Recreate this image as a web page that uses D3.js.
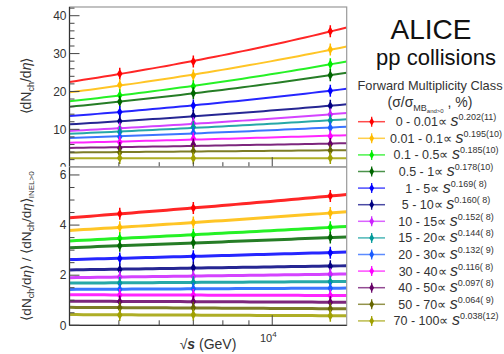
<!DOCTYPE html>
<html>
<head>
<meta charset="utf-8">
<script src="https://cdn.jsdelivr.net/npm/d3@7"></script>
<style>
  body { margin: 0; background: #fff; }
  text { font-family: "Liberation Sans", Arial, sans-serif; fill: #333; }
</style>
</head>
<body>
<div id="chart"></div>
<script>
// Collision energies (GeV) of the measured points
const energies = [5020, 7000, 13000];

// Forward multiplicity classes and fitted exponents from the legend
const classLabels = ["0 - 0.01", "0.01 - 0.1", "0.1 - 0.5", "0.5 - 1", "1 - 5", "5 - 10",
  "10 - 15", "15 - 20", "20 - 30", "30 - 40", "40 - 50", "50 - 70", "70 - 100"];
const exponents = ["0.202(11)", "0.195(10)", "0.185(10)", "0.178(10)", "0.169( 8)", "0.160( 8)",
  "0.152( 8)", "0.144( 8)", "0.132( 9)", "0.116( 8)", "0.097( 8)", "0.064( 9)", "0.038(12)"];

// <dNch/deta> per class at 5.02, 7, 13 TeV (top panel)
const dNdEta = [
  [24.7, 27.9, 35.9],
  [21.7, 24.2, 31.1],
  [19.0, 21.4, 27.2],
  [17.3, 19.5, 24.3],
  [14.6, 16.3, 20.2],
  [12.1, 13.5, 16.2],
  [10.2, 11.6, 13.9],
  [9.3, 10.6, 12.3],
  [8.05, 9.1, 10.4],
  [6.6, 7.6, 8.2],
  [5.07, 6.0, 6.1],
  [3.9, 4.3, 4.4],
  [2.4, 2.35, 2.4]
];

// ratio to INEL>0 per class at 5.02, 7, 13 TeV (bottom panel)
const ratios = [
  [4.45, 4.68, 5.16],
  [3.91, 4.10, 4.48],
  [3.47, 3.61, 3.91],
  [3.17, 3.29, 3.50],
  [2.67, 2.76, 2.90],
  [2.23, 2.30, 2.36],
  [1.93, 1.96, 2.04],
  [1.69, 1.72, 1.74],
  [1.44, 1.46, 1.48],
  [1.21, 1.21, 1.19],
  [0.95, 0.95, 0.92],
  [0.70, 0.70, 0.66],
  [0.41, 0.42, 0.38]
];

const topTicks = [0, 10, 20, 30, 40];
const bottomTicks = [0, 2, 4, 6];
const xMinorTicks = [5000, 6000, 7000, 8000, 9000];
const xMajorTicks = [10000];

const colors = ["#ff0000", "#ffbb00", "#00ee00", "#006600", "#0000ff", "#000080",
  "#cc22ff", "#009999", "#1a5cff", "#ff00ff", "#660066", "#666600", "#a0a000"];

const width = 504, height = 354;
const plotLeft = 69.5, plotRight = 346.7;

const svg = d3.select("#chart").append("svg")
  .attr("width", width)
  .attr("height", height);

const x = d3.scaleLog().domain([4000, 14000]).range([plotLeft, plotRight]);
const yTop = d3.scaleLinear().domain([0, 42.3]).range([167.2, 7]);
const yBottom = d3.scaleLinear().domain([0, 6.31]).range([325.3, 167.2]);

// Power-law fit in log-log space through the three measured points
function powerFit(vals) {
  const lx = energies.map(Math.log), ly = vals.map(Math.log);
  const mx = d3.mean(lx), my = d3.mean(ly);
  const b = d3.sum(lx, (v, i) => (v - mx) * (ly[i] - my)) / d3.sum(lx, v => (v - mx) * (v - mx));
  const a = my - b * mx;
  return e => Math.exp(a + b * Math.log(e));
}

const sampleE = d3.range(41).map(i => 4000 * Math.pow(14000 / 4000, i / 40));

function drawPanel(id, y, values, lineWidth, yTicks, minorStep) {
  const [y0, y1] = y.range();
  const g = svg.append("g");

  g.append("rect")
    .attr("x", 0).attr("y", y1 - 0.5)
    .attr("width", plotRight + 2).attr("height", y0 - y1 + 30)
    .attr("fill", "#fff");

  g.append("clipPath").attr("id", id)
    .append("rect")
    .attr("x", plotLeft).attr("y", y1)
    .attr("width", plotRight - plotLeft).attr("height", y0 - y1);

  const plot = g.append("g").attr("clip-path", `url(#${id})`);

  // fit lines
  const line = d3.line().x(d => x(d[0])).y(d => y(d[1]));
  values.forEach((vals, i) => {
    const f = powerFit(vals);
    plot.append("path")
      .attr("d", line(sampleE.map(e => [e, f(e)])))
      .attr("fill", "none")
      .attr("stroke", colors[i])
      .attr("stroke-width", lineWidth)
      .attr("opacity", 0.85);
  });

  // data points
  values.forEach((vals, i) => {
    vals.forEach((v, j) => {
      const cx = x(energies[j]), cy = y(v);
      plot.append("line")
        .attr("x1", cx).attr("x2", cx)
        .attr("y1", cy - 6).attr("y2", cy + 6)
        .attr("stroke", colors[i]).attr("stroke-width", 1.5);
      plot.append("path")
        .attr("d", d3.symbol(d3.symbolDiamond, 26)())
        .attr("transform", `translate(${cx},${cy})`)
        .attr("fill", colors[i]);
    });
  });

  // frame
  g.append("rect")
    .attr("x", plotLeft).attr("y", y1)
    .attr("width", plotRight - plotLeft).attr("height", y0 - y1)
    .attr("fill", "none").attr("stroke", "#999").attr("stroke-width", 1.2);
  g.append("line")
    .attr("x1", plotLeft).attr("x2", plotLeft).attr("y1", y1).attr("y2", y0)
    .attr("stroke", "#333").attr("stroke-width", 1.2);
  g.append("line")
    .attr("x1", plotLeft).attr("x2", plotRight).attr("y1", y0).attr("y2", y0)
    .attr("stroke", "#333").attr("stroke-width", 1.2);

  // y ticks
  const d1 = y.domain()[1];
  const minors = d3.range(0, d1 + 1e-9, minorStep).filter(v => !yTicks.includes(v));
  g.selectAll(null).data(minors).enter().append("line")
    .attr("x1", plotLeft).attr("x2", plotLeft + 5)
    .attr("y1", d => y(d)).attr("y2", d => y(d))
    .attr("stroke", "#444");
  g.selectAll(null).data(yTicks).enter().append("line")
    .attr("x1", plotLeft).attr("x2", plotLeft + 10)
    .attr("y1", d => y(d)).attr("y2", d => y(d))
    .attr("stroke", "#444");
  g.selectAll(null).data(yTicks).enter().append("text")
    .attr("x", plotLeft - 3).attr("y", d => y(d) + 4.3)
    .attr("text-anchor", "end")
    .attr("font-size", 12)
    .text(d => d);

  // x ticks
  g.selectAll(null).data(xMinorTicks).enter().append("line")
    .attr("x1", d => x(d)).attr("x2", d => x(d))
    .attr("y1", y0).attr("y2", y0 - 5)
    .attr("stroke", "#444");
  g.selectAll(null).data(xMajorTicks).enter().append("line")
    .attr("x1", d => x(d)).attr("x2", d => x(d))
    .attr("y1", y0).attr("y2", y0 - 10)
    .attr("stroke", "#444");
  return g;
}

drawPanel("clipTop", yTop, dNdEta, 2, topTicks, 2);
drawPanel("clipBottom", yBottom, ratios, 3, bottomTicks, 0.5);

// x tick label 10^4
const xl = svg.append("text")
  .attr("x", x(10000) - 4).attr("y", 342)
  .attr("text-anchor", "middle")
  .attr("font-size", 11);
xl.append("tspan").text("10");
xl.append("tspan").attr("font-size", 8).attr("dy", -5).text("4");

// x axis title
const xt = svg.append("text")
  .attr("x", 208).attr("y", 349)
  .attr("text-anchor", "middle")
  .attr("font-size", 14);
xt.append("tspan").text("\u221A");
xt.append("tspan").attr("font-style", "italic").attr("font-weight", "bold").text("s");
xt.append("tspan").text(" (GeV)");

// y axis titles
function dndeta(t) {
  t.append("tspan").text("\u27E8dN");
  t.append("tspan").attr("font-size", 9).attr("dy", 3).text("ch");
  t.append("tspan").attr("dy", -3).text("/d");
  t.append("tspan").attr("font-style", "italic").text("\u03B7");
  t.append("tspan").text("\u27E9");
}
const yt1 = svg.append("text")
  .attr("transform", "translate(31,86) rotate(-90)")
  .attr("text-anchor", "middle")
  .attr("font-size", 14);
dndeta(yt1);

const yt2 = svg.append("text")
  .attr("transform", "translate(31,246) rotate(-90)")
  .attr("text-anchor", "middle")
  .attr("font-size", 13.5);
dndeta(yt2);
yt2.append("tspan").text(" / ");
dndeta(yt2);
yt2.append("tspan").attr("font-size", 8).attr("dy", 3).text("INEL>0");

// legend header
svg.append("text")
  .attr("x", 431).attr("y", 39)
  .attr("text-anchor", "middle")
  .attr("font-size", 28)
  .style("fill", "#111")
  .text("ALICE");
svg.append("text")
  .attr("x", 436).attr("y", 65)
  .attr("text-anchor", "middle")
  .attr("font-size", 22)
  .style("fill", "#111")
  .text("pp collisions");
svg.append("text")
  .attr("x", 430).attr("y", 90)
  .attr("text-anchor", "middle")
  .attr("font-size", 12.8)
  .text("Forward Multiplicity Class");
const hd = svg.append("text")
  .attr("x", 430).attr("y", 107)
  .attr("text-anchor", "middle")
  .attr("font-size", 14);
hd.append("tspan").text("(\u03C3/\u03C3");
hd.append("tspan").attr("font-size", 9).attr("dy", 4).text("MB");
hd.append("tspan").attr("font-size", 6).attr("dy", 2).text("and>0");
hd.append("tspan").attr("dy", -6).text(" , %)");

// legend rows
classLabels.forEach((label, i) => {
  const ly = 121.7 + 16.6 * i;
  svg.append("line")
    .attr("x1", 358).attr("x2", 385).attr("y1", ly).attr("y2", ly)
    .attr("stroke", colors[i]).attr("stroke-width", 1.5).attr("opacity", 0.7);
  svg.append("line")
    .attr("x1", 371.7).attr("x2", 371.7).attr("y1", ly - 5).attr("y2", ly + 5)
    .attr("stroke", colors[i]).attr("stroke-width", 1.2);
  svg.append("path")
    .attr("d", d3.symbol(d3.symbolDiamond, 20)())
    .attr("transform", `translate(371.7,${ly})`)
    .attr("fill", colors[i]);

  const t = svg.append("text")
    .attr("x", 446).attr("y", ly + 4.5)
    .attr("text-anchor", "middle")
    .attr("font-size", 12.5);
  t.append("tspan").text(label + "\u221D ");
  t.append("tspan").attr("font-style", "italic").attr("font-size", 16).text("s");
  t.append("tspan").attr("font-size", 9).attr("dy", -6).text(exponents[i]);
});
</script>
</body>
</html>
